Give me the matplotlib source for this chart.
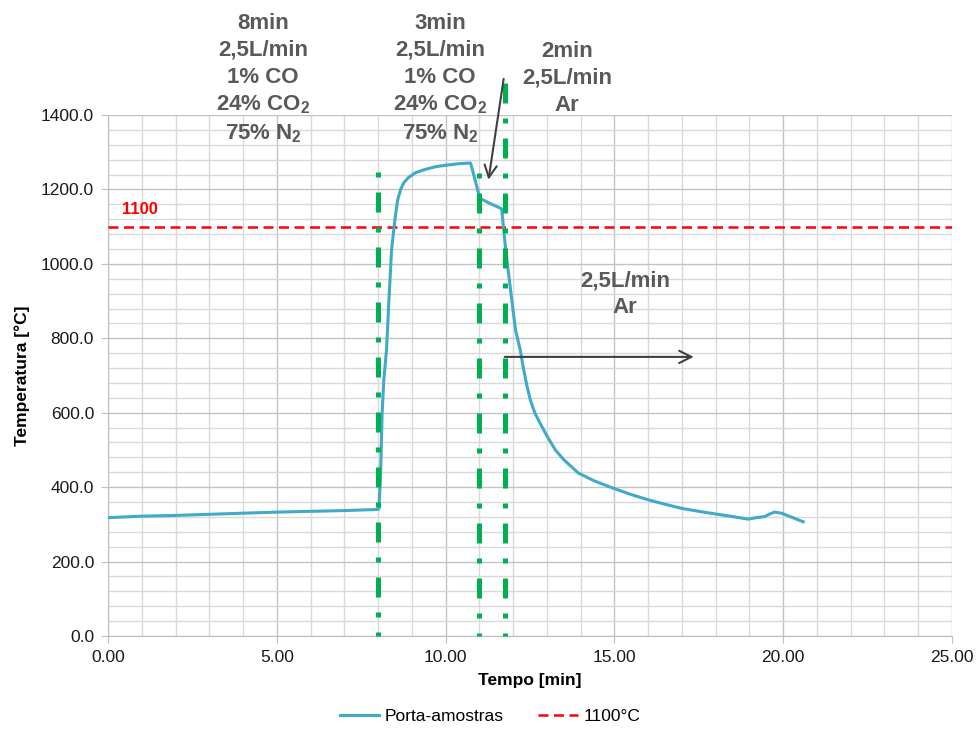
import matplotlib
matplotlib.use("Agg")
import matplotlib.pyplot as plt
from matplotlib.ticker import MultipleLocator, FormatStrFormatter

plt.rcParams['font.family'] = ['Liberation Sans', 'DejaVu Sans']
plt.rcParams['mathtext.fontset'] = 'custom'
plt.rcParams['mathtext.rm'] = 'Liberation Sans:bold'
plt.rcParams['mathtext.default'] = 'rm'

# Sample-holder temperature record
tempo = [0.0, 1.0, 2.0, 3.0, 4.0, 5.06, 6.0, 7.0, 7.96, 8.02, 8.07, 8.12, 8.17,
         8.25, 8.32, 8.40, 8.50, 8.58, 8.67, 8.76, 8.9, 9.11, 9.4, 9.7, 10.0,
         10.38, 10.74, 10.95, 11.0, 11.3, 11.66, 11.78, 11.96, 12.07, 12.21,
         12.3, 12.4, 12.51, 12.65, 12.85, 13.0, 13.25, 13.5, 13.93, 14.4,
         14.97, 15.5, 16.0, 16.5, 16.99, 17.5, 17.98, 18.5, 18.96, 19.2,
         19.46, 19.6, 19.75, 19.95, 20.59]
temperatura = [318, 322, 324, 327, 330, 333, 335, 337, 340, 341, 419, 599, 688,
               769, 900, 1038, 1120, 1172, 1200, 1218, 1232, 1245, 1254, 1261,
               1265, 1269, 1271, 1199, 1177, 1163, 1148, 1038, 903, 823, 769,
               722, 676, 634, 598, 563, 538, 500, 474, 438, 417,
               397, 380, 366, 354, 343, 335, 328, 321, 314, 318,
               321, 328, 333, 330, 307]

limite = 1100
# Gas-change instants (min) and top of each marker line (°C)
trocas = [8.0, 11.0, 11.75]
topo_trocas = [1247, 1245, 1486]

blocos = [
    (263, 0.0, "8min\n2,5L/min\n1% CO\n24% CO$_2$\n75% N$_2$"),
    (440, 0.0, "3min\n2,5L/min\n1% CO\n24% CO$_2$\n75% N$_2$"),
    (567, 28.0, "2min\n2,5L/min\nAr"),
]

fig = plt.figure(figsize=(9.78, 7.36), dpi=100)
ax = fig.add_axes([108 / 978, 1 - 636 / 736, (952 - 108) / 978, (636 - 115) / 736])

ax.set_xlim(0, 25)
ax.set_ylim(0, 1400)
ax.xaxis.set_major_locator(MultipleLocator(5))
ax.xaxis.set_minor_locator(MultipleLocator(1))
ax.yaxis.set_major_locator(MultipleLocator(200))
ax.yaxis.set_minor_locator(MultipleLocator(40))
ax.xaxis.set_major_formatter(FormatStrFormatter('%.2f'))
ax.yaxis.set_major_formatter(FormatStrFormatter('%.1f'))
ax.grid(which='major', color='#c2c2c2', lw=1.0, zorder=0)
ax.grid(which='minor', color='#d9d9d9', lw=1.0, zorder=0)
ax.set_axisbelow(True)
for s in ['top', 'right']:
    ax.spines[s].set_visible(False)
for s in ['left', 'bottom']:
    ax.spines[s].set_color('#bfbfbf')
ax.tick_params(which='major', length=5, color='#bfbfbf', labelsize=12.5,
               labelcolor='#1a1a1a', pad=5)
ax.tick_params(which='minor', length=0)

ax.plot(tempo, temperatura, color='#41a9c9', lw=2.2, zorder=4,
        label='Porta-amostras')
ax.axhline(limite, color='#ff0000', lw=1.8, ls=(0, (4, 2.2)), zorder=3,
           label='1100°C')
ax.text(0.42, 1145, '1100', color='#ff0000', fontsize=12, fontweight='bold',
        ha='left', va='center')

for i, (x, top) in enumerate(zip(trocas, topo_trocas)):
    pattern = (0, (4, 3, 1, 3)) if i == 2 else (0, (1, 3, 4, 3))
    ax.plot([x, x], [top, 0], color='#00b050', lw=3.6, ls=pattern,
            clip_on=False, zorder=5, solid_capstyle='butt')

ax.annotate('', xy=(11.27, 1226), xytext=(11.72, 1497),
            arrowprops=dict(arrowstyle='->', color='#404040', lw=1.5,
                            mutation_scale=22, shrinkA=0, shrinkB=0),
            annotation_clip=False, zorder=6)
ax.annotate('', xy=(17.35, 750), xytext=(11.75, 750),
            arrowprops=dict(arrowstyle='->', color='#404040', lw=1.5,
                            mutation_scale=22, shrinkA=0, shrinkB=0),
            zorder=6)

for cx, dy, txt in blocos:
    fig.text(cx / 978, 1 - (13 + dy) / 736, txt, ha='center', va='top',
             fontsize=16, fontweight='bold', color='#595959',
             linespacing=1.36)
fig.text(625 / 978, 1 - 270 / 736, "2,5L/min\nAr", ha='center', va='top',
         fontsize=16, fontweight='bold', color='#595959', linespacing=1.36)

ax.set_xlabel('Tempo [min]', fontsize=12.5, fontweight='bold', labelpad=6)
ax.set_ylabel('Temperatura [°C]', fontsize=12.5, fontweight='bold', labelpad=8)

fig.legend(loc='center', bbox_to_anchor=(490 / 978, 1 - 716 / 736), ncol=2,
           frameon=False, fontsize=12.5, handlelength=2.3, columnspacing=2.0,
           handletextpad=0.3)

fig.savefig('out.png', dpi=100)
